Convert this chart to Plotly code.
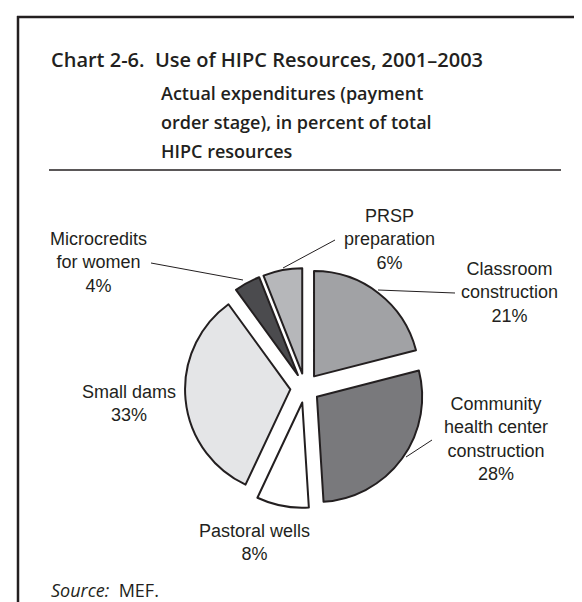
import plotly.graph_objects as go

W, H = 582, 602

# ---- data ----
categories = ["Classroom construction", "Community health center construction", "Pastoral wells",
              "Small dams", "Microcredits for women", "PRSP preparation"]
shares = [21, 28, 8, 33, 4, 6]
slice_colors = ["#a1a2a5", "#79797c", "#ffffff", "#e4e5e7", "#4b4b4e", "#b6b7ba"]
label_texts = ["Classroom<br>construction<br>21%",
               "Community<br>health center<br>construction<br>28%",
               "Pastoral wells<br>8%",
               "Small dams<br>33%",
               "Microcredits<br>for women<br>4%",
               "PRSP<br>preparation<br>6%"]

title_text = "Chart 2-6.  Use of HIPC Resources, 2001\u20132003"
subtitle_lines = ["Actual expenditures (payment", "order stage), in percent of total", "HIPC resources"]
source_text = "<i>Source:</i>  MEF."

def px(x):
    return x / W

def py(y):
    return 1 - y / H

# pie placement (pixels)
cx, cy, half = 297, 380, 120

fig = go.Figure(go.Pie(
    labels=categories, values=shares, sort=False, direction="clockwise", rotation=0,
    marker=dict(colors=slice_colors, line=dict(color="#231f20", width=2)),
    pull=[0.14] * len(shares), textinfo="none", hoverinfo="none", showlegend=False,
    domain=dict(x=[px(cx - half), px(cx + half)], y=[py(cy + half), py(cy - half)]),
))

lab_font = dict(family="Liberation Sans, Arial, sans-serif", size=18, color="#231f20")
label_pos = [(501, 284), (488, 431), (246, 534), (121, 395), (90, 254), (381, 231)]
annotations = []
for t, (x, y) in zip(label_texts, label_pos):
    annotations.append(dict(x=px(x), y=py(y), xref="paper", yref="paper", text=t, showarrow=False,
                            font=lab_font, xanchor="center", yanchor="middle", align="center"))

head_font = dict(family="Open Sans, sans-serif", size=20, color="#231f20", weight=600)
annotations.append(dict(x=px(41), y=py(51), xref="paper", yref="paper", text=title_text, showarrow=False,
                        font=head_font, xanchor="left", yanchor="middle"))
sub_font = dict(family="Open Sans, sans-serif", size=18, color="#231f20", weight=600)
for i, s in enumerate(subtitle_lines):
    annotations.append(dict(x=px(151), y=py(85 + 29 * i), xref="paper", yref="paper", text=s,
                            showarrow=False, font=sub_font, xanchor="left", yanchor="middle"))
annotations.append(dict(x=px(41), y=py(582), xref="paper", yref="paper", text=source_text, showarrow=False,
                        font=dict(family="Open Sans, sans-serif", size=18, color="#231f20"),
                        xanchor="left", yanchor="middle"))

line_c = "#231f20"
shapes = [
    dict(type="line", xref="paper", yref="paper", x0=px(9), x1=px(582), y0=py(9), y1=py(9),
         line=dict(color=line_c, width=2.5)),
    dict(type="line", xref="paper", yref="paper", x0=px(10), x1=px(10), y0=py(8), y1=py(602),
         line=dict(color=line_c, width=2.5)),
    dict(type="line", xref="paper", yref="paper", x0=px(41), x1=px(553), y0=py(162), y1=py(162),
         line=dict(color=line_c, width=1.3)),
]
leaders = [((327, 232), (275, 260)), ((447, 285), (370, 282)), ((424, 432), (398, 449)),
           ((143, 255), (235, 272))]
for (x0, y0), (x1, y1) in leaders:
    shapes.append(dict(type="line", xref="paper", yref="paper", x0=px(x0), y0=py(y0), x1=px(x1), y1=py(y1),
                       line=dict(color=line_c, width=1)))

fig.update_layout(width=W, height=H, margin=dict(l=0, r=0, t=0, b=0),
                  paper_bgcolor="white", plot_bgcolor="white",
                  annotations=annotations, shapes=shapes)
fig.write_html("out.html")
